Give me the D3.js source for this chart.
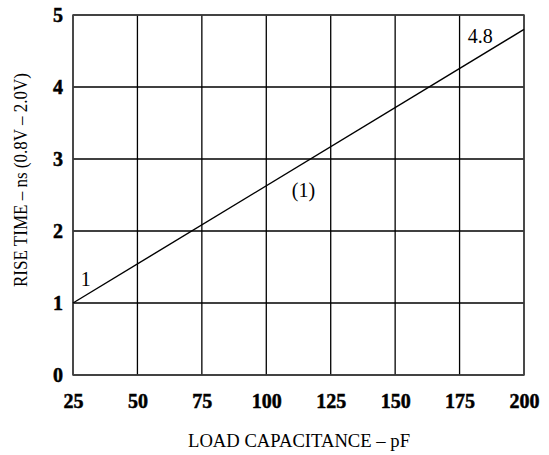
<!DOCTYPE html>
<html>
<head>
<meta charset="utf-8">
<script src="https://cdn.jsdelivr.net/npm/d3@7"></script>
<style>
  body { margin: 0; background: #fff; }
</style>
</head>
<body>
<script>
var xTicks = [25, 50, 75, 100, 125, 150, 175, 200]
var yTicks = [0, 1, 2, 3, 4, 5]
var capacitance = [25, 200]
var riseTime = [1, 4.8]
var notes = [
  { x: 28, y: 1.24, text: "1", anchor: "start" },
  { x: 183, y: 4.61, text: "4.8", anchor: "middle" },
  { x: 114.4, y: 2.47, text: "(1)", anchor: "middle" }
]

var serif = "'Liberation Serif', 'Times New Roman', serif"
var width = 549, height = 455
var margin = { top: 15, right: 25, bottom: 80, left: 73 }

var svg = d3.select("body").append("svg")
  .attr("width", width)
  .attr("height", height)
  .attr("font-family", serif)

var x = d3.scaleLinear().domain([25, 200]).range([margin.left, width - margin.right])
var y = d3.scaleLinear().domain([0, 5]).range([height - margin.bottom, margin.top])

// grid
var grid = svg.append("g").attr("class", "grid")

grid.selectAll("line.v")
  .data(xTicks)
  .enter().append("line")
    .attr("class", "v")
    .attr("x1", function(d) { return x(d) })
    .attr("x2", function(d) { return x(d) })
    .attr("y1", y(0))
    .attr("y2", y(5))
    .attr("stroke", "#000")
    .attr("stroke-width", 1.3)

grid.selectAll("line.h")
  .data(yTicks)
  .enter().append("line")
    .attr("class", "h")
    .attr("x1", x(25))
    .attr("x2", x(200))
    .attr("y1", function(d) { return y(d) })
    .attr("y2", function(d) { return y(d) })
    .attr("stroke", "#000")
    .attr("stroke-width", 1.3)

// frame
svg.append("rect")
  .attr("x", x(25))
  .attr("y", y(5))
  .attr("width", x(200) - x(25))
  .attr("height", y(0) - y(5))
  .attr("fill", "none")
  .attr("stroke", "#444")
  .attr("stroke-width", 1.5)

// axes (labels only)
var xAxis = svg.append("g")
  .attr("transform", "translate(0," + y(0) + ")")
  .call(d3.axisBottom(x).tickValues(xTicks).tickSize(0).tickPadding(19))
xAxis.select(".domain").remove()
xAxis.attr("font-family", serif)
xAxis.selectAll("text")
  .attr("font-size", 20)
  .attr("font-weight", "bold")
  .attr("fill", "#000")
  .attr("stroke", "#000")
  .attr("stroke-width", 0.5)

var yAxis = svg.append("g")
  .attr("transform", "translate(" + x(25) + ",0)")
  .call(d3.axisLeft(y).tickValues(yTicks).tickFormat(d3.format("d")).tickSize(0).tickPadding(10))
yAxis.select(".domain").remove()
yAxis.attr("font-family", serif)
yAxis.selectAll("text")
  .attr("font-size", 20)
  .attr("font-weight", "bold")
  .attr("fill", "#000")
  .attr("stroke", "#000")
  .attr("stroke-width", 0.5)

// line
var line = d3.line()
  .x(function(d) { return x(d[0]) })
  .y(function(d) { return y(d[1]) })

svg.append("path")
  .datum(d3.zip(capacitance, riseTime))
  .attr("d", line)
  .attr("fill", "none")
  .attr("stroke", "#000")
  .attr("stroke-width", 1.4)

svg.selectAll("text.note")
  .data(notes)
  .enter().append("text")
    .attr("class", "note")
    .attr("x", function(d) { return x(d.x) })
    .attr("y", function(d) { return y(d.y) })
    .attr("text-anchor", function(d) { return d.anchor })
    .attr("font-size", 20)
    .text(function(d) { return d.text })

// axis titles
svg.append("text")
  .attr("x", 299)
  .attr("y", 447)
  .attr("text-anchor", "middle")
  .attr("font-size", 18)
  .attr("textLength", 222)
  .attr("lengthAdjust", "spacingAndGlyphs")
  .text("LOAD CAPACITANCE – pF")

svg.append("text")
  .attr("transform", "translate(27,180) rotate(-90)")
  .attr("text-anchor", "middle")
  .attr("font-size", 18)
  .attr("textLength", 214)
  .attr("lengthAdjust", "spacingAndGlyphs")
  .text("RISE TIME – ns (0.8V – 2.0V)")
</script>
</body>
</html>
